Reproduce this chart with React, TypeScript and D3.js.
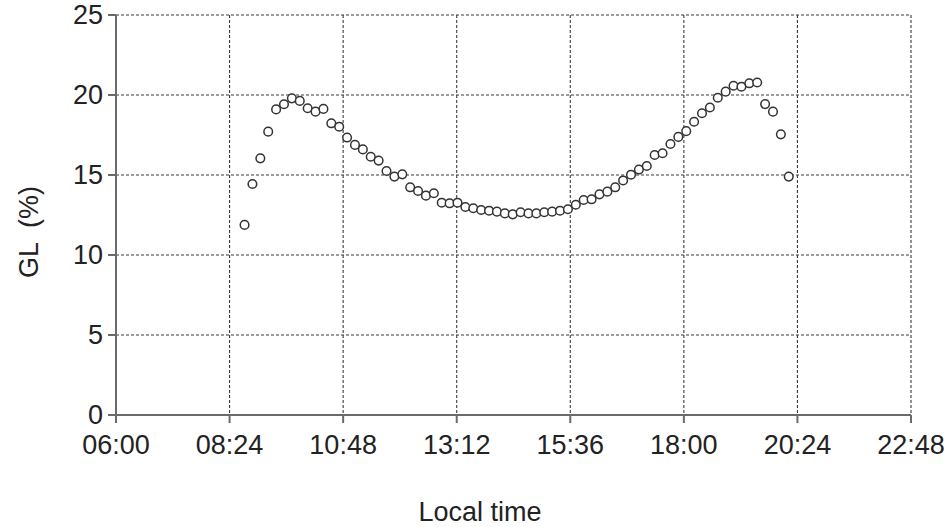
import React from "react";
import * as d3 from "d3";

const times: string[] = [
  "08:43", "08:53", "09:03", "09:13", "09:23", "09:33", "09:43", "09:53", "10:03", "10:13",
  "10:23", "10:33", "10:43", "10:53", "11:03", "11:13", "11:23", "11:33", "11:43", "11:53",
  "12:03", "12:13", "12:23", "12:33", "12:43", "12:53", "13:03", "13:13", "13:23", "13:33",
  "13:43", "13:53", "14:03", "14:13", "14:23", "14:33", "14:43", "14:53", "15:03", "15:13",
  "15:23", "15:33", "15:43", "15:53", "16:03", "16:13", "16:23", "16:33", "16:43", "16:53",
  "17:03", "17:13", "17:23", "17:33", "17:43", "17:53", "18:03", "18:13", "18:23", "18:33",
  "18:43", "18:53", "19:03", "19:13", "19:23", "19:33", "19:43", "19:53", "20:03", "20:13",
];

const glValues: number[] = [
  11.88, 14.44, 16.04, 17.71, 19.1, 19.42, 19.79, 19.63, 19.17, 18.96,
  19.13, 18.23, 18.02, 17.34, 16.88, 16.6, 16.14, 15.9, 15.25, 14.9,
  15.04, 14.23, 14.0, 13.71, 13.86, 13.27, 13.23, 13.27, 13.0, 12.92,
  12.81, 12.77, 12.71, 12.6, 12.54, 12.67, 12.6, 12.6, 12.67, 12.71,
  12.77, 12.86, 13.14, 13.44, 13.48, 13.79, 13.96, 14.23, 14.66, 15.02,
  15.34, 15.56, 16.25, 16.36, 16.94, 17.38, 17.74, 18.33, 18.86, 19.22,
  19.83, 20.21, 20.58, 20.52, 20.73, 20.78, 19.43, 18.96, 17.54, 14.9,
];

const xTickLabels: string[] = ["06:00", "08:24", "10:48", "13:12", "15:36", "18:00", "20:24", "22:48"];
const yTicks: number[] = [0, 5, 10, 15, 20, 25];

const toMin = (s: string) => {
  const [h, m] = s.split(":").map(Number);
  return h * 60 + m;
};

const W = 951;
const H = 527;
const left = 116;
const right = 911;
const top = 15;
const bottom = 415;

export default function App() {
  const x = d3.scaleLinear().domain([toMin(xTickLabels[0]), toMin(xTickLabels[xTickLabels.length - 1])]).range([left, right]);
  const y = d3.scaleLinear().domain([0, 25]).range([bottom, top]);
  const font = "'Liberation Sans', Arial, sans-serif";
  const gridColor = "#3a3a3a";
  const axisColor = "#6a6a6a";
  const textColor = "#222";
  const fs = 27;

  return (
    <svg width={W} height={H} style={{ position: "absolute", left: 0, top: 0, background: "#fff" }} fontFamily={font}>
      <rect x={0} y={0} width={W} height={H} fill="#fff" />
      {yTicks.filter((v) => v > 0).map((v) => (
        <line key={"hg" + v} x1={left} x2={right} y1={y(v)} y2={y(v)} stroke={gridColor} strokeWidth={1.1} strokeDasharray="3,2" />
      ))}
      {xTickLabels.slice(1).map((t) => (
        <line key={"vg" + t} x1={x(toMin(t))} x2={x(toMin(t))} y1={top} y2={bottom} stroke={gridColor} strokeWidth={1.1} strokeDasharray="3,2" />
      ))}
      <line x1={left} x2={left} y1={top} y2={bottom + 8} stroke={axisColor} strokeWidth={2} />
      <line x1={left - 8} x2={right} y1={bottom} y2={bottom} stroke={axisColor} strokeWidth={2} />
      {yTicks.map((v) => (
        <line key={"yt" + v} x1={left - 8} x2={left} y1={y(v)} y2={y(v)} stroke={axisColor} strokeWidth={2} />
      ))}
      {xTickLabels.map((t) => (
        <line key={"xt" + t} x1={x(toMin(t))} x2={x(toMin(t))} y1={bottom} y2={bottom + 8} stroke={axisColor} strokeWidth={2} />
      ))}
      {yTicks.map((v) => (
        <text key={"yl" + v} x={left - 13} y={y(v)} dy="0.35em" textAnchor="end" fontSize={fs} fill={textColor}>
          {v}
        </text>
      ))}
      {xTickLabels.map((t) => (
        <text key={"xl" + t} x={x(toMin(t))} y={bottom + 39} textAnchor="middle" fontSize={fs} fill={textColor}>
          {t}
        </text>
      ))}
      <text x={480} y={521} textAnchor="middle" fontSize={fs} fill={textColor}>
        Local time
      </text>
      <text
        transform={`translate(38, 232) rotate(-90)`}
        textAnchor="middle"
        fontSize={fs}
        fill={textColor}
        style={{ whiteSpace: "pre" }}
      >
        {"GL  (%)"}
      </text>
      {glValues.map((v, i) => (
        <circle key={"p" + i} cx={x(toMin(times[i]))} cy={y(v)} r={4.3} fill="#fff" stroke="#333" strokeWidth={1.5} />
      ))}
    </svg>
  );
}
